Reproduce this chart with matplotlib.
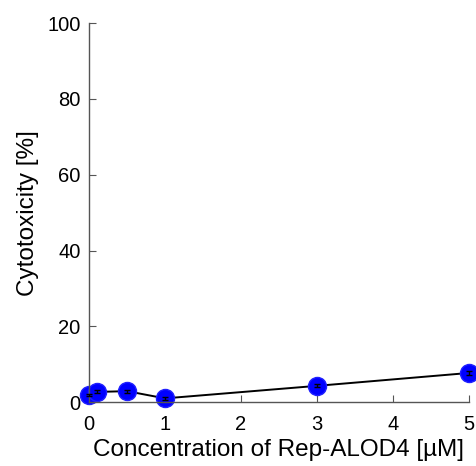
import matplotlib
matplotlib.use("Agg")
import matplotlib.pyplot as plt

conc = [0, 0.1, 0.5, 1, 3, 5]
cyto = [1.8, 2.7, 2.9, 1.0, 4.3, 7.7]
err = [0.3, 0.4, 0.4, 0.3, 0.4, 0.6]

plt.rcParams['font.family'] = ['Liberation Sans', 'DejaVu Sans']
fig = plt.figure(figsize=(4.77, 4.66), dpi=100)
ax = fig.add_axes([0.1866, 0.137, 0.7964, 0.8136])
ax.plot(conc, cyto, color='black', lw=1.4, zorder=1)
ax.plot(conc, cyto, 'o', color='#0000ff', markersize=13, markeredgecolor='#2020ff', zorder=2)
ax.errorbar(conc, cyto, yerr=err, fmt='none', ecolor='black', elinewidth=1, capsize=2, zorder=3)
ax.set_xlim(0, 5)
ax.set_ylim(0, 100)
ax.set_xticks([0, 1, 2, 3, 4, 5])
ax.set_yticks([0, 20, 40, 60, 80, 100])
for s in ['top', 'right']:
    ax.spines[s].set_visible(False)
for s in ['left', 'bottom']:
    ax.spines[s].set_color('#555555')
    ax.spines[s].set_linewidth(1)
ax.tick_params(direction='in', length=5, color='#555555', labelsize=14.5)
ax.tick_params(axis='x', pad=9)
ax.tick_params(axis='y', pad=6)
ax.set_xlabel('Concentration of Rep-ALOD4 [µM]', fontsize=17.5, labelpad=4)
ax.set_ylabel('Cytotoxicity [%]', fontsize=17.5, labelpad=6)
for a in ax.get_children():
    try:
        a.set_clip_on(False)
    except Exception:
        pass
fig.savefig('out.png', dpi=100)
